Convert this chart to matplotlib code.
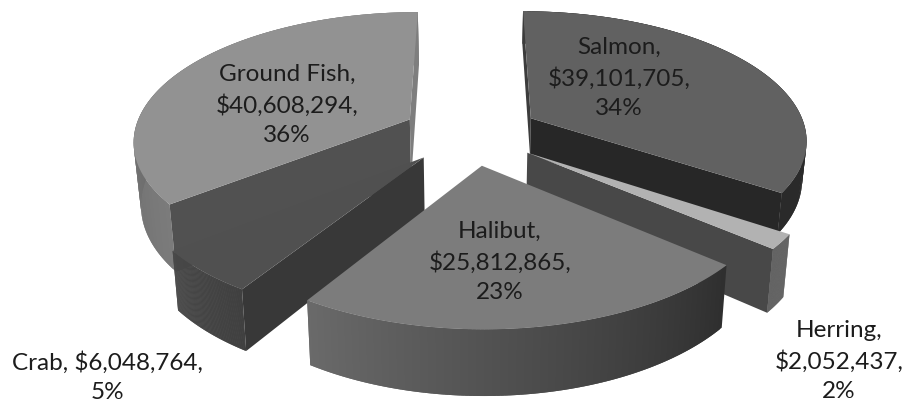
import numpy as np
import matplotlib
matplotlib.use("Agg")
import matplotlib.pyplot as plt
from matplotlib.colors import to_rgb
from matplotlib.patches import Polygon

# fishery values in dollars, clockwise from 12 o'clock
categories = ["Salmon", "Herring", "Halibut", "Crab", "Ground Fish"]
values = [39101705, 2052437, 25812865, 6048764, 40608294]

# how each data label breaks over lines
label_lines = {
    "Salmon": "{name},\n${val:,},\n{pct}%",
    "Herring": "{name},\n${val:,},\n{pct}%",
    "Halibut": "{name},\n${val:,},\n{pct}%",
    "Crab": "{name}, ${val:,},\n{pct}%",
    "Ground Fish": "{name},\n${val:,},\n{pct}%",
}
label_pos = {
    "Salmon": (619, 78),
    "Herring": (839, 361),
    "Halibut": (500, 262),
    "Crab": (107, 377),
    "Ground Fish": (287, 105),
}

# slice look: top, edge wall, outer wall left -> right, height in px
top_color = {"Salmon": "#616161", "Herring": "#b2b2b2", "Halibut": "#7c7c7c",
             "Crab": "#505050", "Ground Fish": "#929292"}
start_wall = {"Salmon": "#3c3c3c", "Herring": "#484848", "Halibut": "#484848",
              "Crab": "#383838", "Ground Fish": "#515151"}
end_wall = {"Salmon": "#272727", "Herring": "#484848", "Halibut": "#484848",
            "Crab": "#383838", "Ground Fish": "#7e7e7e"}
outer_wall = {"Salmon": ("#2a2a2a", "#2a2a2a"), "Herring": ("#555555", "#555555"),
              "Halibut": ("#6a6a6a", "#2f2f2f"), "Crab": ("#484848", "#404040"),
              "Ground Fish": ("#6e6e6e", "#848484")}
height = {"Salmon": 38, "Herring": 56, "Halibut": 54, "Crab": 52, "Ground Fish": 62}

draw_order = ["Ground Fish", "Salmon", "Herring", "Crab", "Halibut"]

# camera for the tilted pie, fitted to the picture
CX, CY = 471, 133
FX, FY, K = 276, 127.5, 0.1525
SHRINK = 0.00035  # uprights lean in towards the bottom
EXPLODE = 0.25


def project(x, y, z=0.0):
    d = 1 + K * np.asarray(y, dtype=float)
    return CX + FX * np.asarray(x) / d * (1 - SHRINK * z), CY + (-FY * np.asarray(y) + z) / d


def wall_quad(ax, p, q, z, color):
    pts = [project(*p), project(*q), project(*q, z), project(*p, z)]
    ax.add_patch(Polygon(pts, closed=True, fc=color, lw=0))


def draw_slice(ax, name, a0, a1):
    mid = (a0 + a1) / 2
    ox, oy = EXPLODE * np.sin(mid), EXPLODE * np.cos(mid)
    th = np.linspace(a0, a1, 120)
    xs = ox + np.sin(th)
    ys = oy + np.cos(th)
    z = height[name]

    # rim, shaded across the slice; each band runs under the next so no seams show
    c0, c1 = np.array(to_rgb(outer_wall[name][0])), np.array(to_rgb(outer_wall[name][1]))
    order = np.argsort(xs)
    rank = np.empty(len(xs))
    rank[order] = np.linspace(0, 1, len(xs))
    for i in range(len(th) - 1):
        j = min(i + 2, len(th) - 1)
        col = c0 + (c1 - c0) * rank[i]
        wall_quad(ax, (xs[i], ys[i]), (xs[j], ys[j]), z, col)

    # flat cut faces, only the ones turned to the camera
    cam = np.array([0, -1 / K]) - np.array([ox, oy])
    n0 = np.array([np.sin(a0 - np.pi / 2), np.cos(a0 - np.pi / 2)])
    n1 = np.array([np.sin(a1 + np.pi / 2), np.cos(a1 + np.pi / 2)])
    if n0 @ cam > 0:
        wall_quad(ax, (ox, oy), (xs[0], ys[0]), z, start_wall[name])
    if n1 @ cam > 0:
        wall_quad(ax, (ox, oy), (xs[-1], ys[-1]), z, end_wall[name])

    px, py = project(np.r_[ox, xs], np.r_[oy, ys])
    ax.add_patch(Polygon(np.c_[px, py], closed=True, fc=top_color[name], lw=0))


fig = plt.figure(figsize=(9.09, 4.05), dpi=100)
ax = fig.add_axes([0, 0, 1, 1])
ax.set_xlim(0, 909)
ax.set_ylim(405, 0)
ax.axis("off")

total = sum(values)
fracs = np.array(values) / total
edges = np.r_[0, np.cumsum(fracs)] * 2 * np.pi
angle = {n: (edges[i], edges[i + 1]) for i, n in enumerate(categories)}

for name in draw_order:
    draw_slice(ax, name, *angle[name])

for name, val in zip(categories, values):
    pct = round(val / total * 100)
    txt = label_lines[name].format(name=name, val=val, pct=pct)
    ax.text(*label_pos[name], txt, ha="center", va="center", family="Lato",
            fontsize=17.5, color="#1c1c1c", linespacing=1.5)

fig.savefig("out.png", dpi=100)
